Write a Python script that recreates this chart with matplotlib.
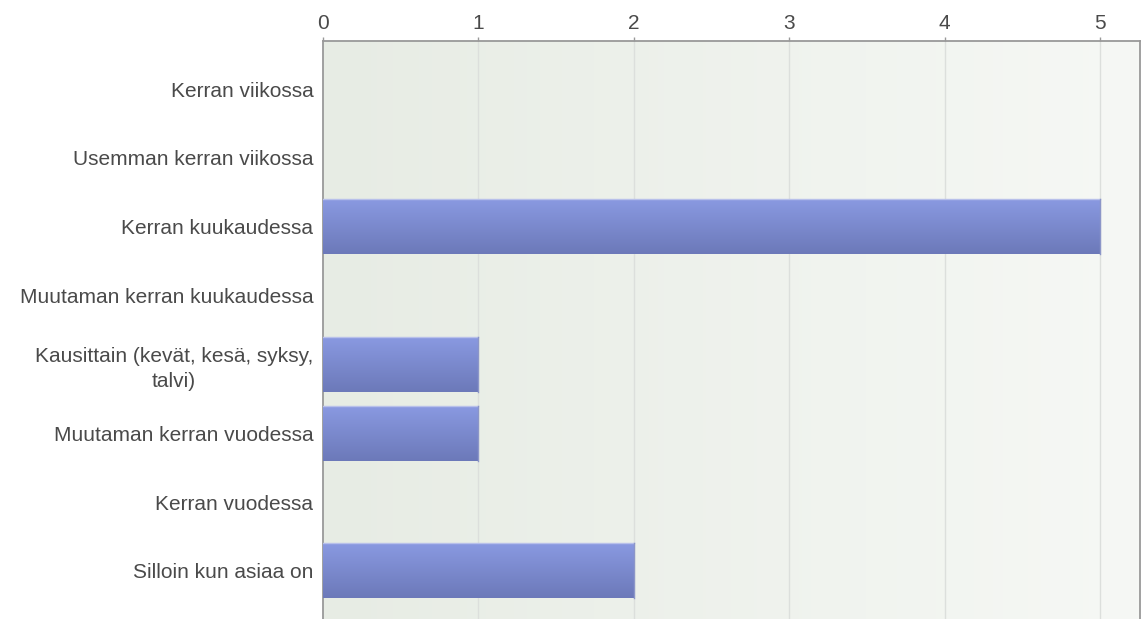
import matplotlib.pyplot as plt
import numpy as np
from matplotlib.colors import LinearSegmentedColormap

categories = [
    "Kerran viikossa",
    "Usemman kerran viikossa",
    "Kerran kuukaudessa",
    "Muutaman kerran kuukaudessa",
    "Kausittain (kevät, kesä, syksy,\ntalvi)",
    "Muutaman kerran vuodessa",
    "Kerran vuodessa",
    "Silloin kun asiaa on",
]
counts = [0, 0, 5, 0, 1, 1, 0, 2]
ticks = [0, 1, 2, 3, 4, 5]

plt.rcParams['font.family'] = ['Liberation Sans', 'DejaVu Sans']

fig = plt.figure(figsize=(11.43, 6.19), dpi=100)
ax = fig.add_axes([323 / 1143, 0, 817 / 1143, 578 / 619])

xmax = 5.257
ymin, ymax = 7.7, -0.7
ax.set_xlim(0, xmax)
ax.set_ylim(ymin, ymax)

# taustan vaakasuuntainen liukuväri
bg = LinearSegmentedColormap.from_list("bg", ["#e7ece4", "#f6f8f5"])
grad = np.linspace(0, 1, 256).reshape(1, -1)
ax.imshow(grad, cmap=bg, aspect="auto", extent=[0, xmax, ymin, ymax], zorder=0)

for t in ticks[1:]:
    ax.axvline(t, color="#dcdfdc", lw=1, zorder=1)

# palkit pystysuuntaisella liukuvärillä
barcm = LinearSegmentedColormap.from_list("bar", ["#8a9ae2", "#6c79b9"])
vgrad = np.linspace(0, 1, 256).reshape(-1, 1)
y = np.arange(len(categories))
bars = ax.barh(y, counts, height=0.8, color="none", edgecolor="none", zorder=2)
for b, c in zip(bars, counts):
    if c == 0:
        continue
    x0, y0 = b.get_x(), b.get_y()
    w, h = b.get_width(), b.get_height()
    im = ax.imshow(vgrad, cmap=barcm, aspect="auto",
                   extent=[x0, x0 + w, y0 + h, y0], zorder=3)
    im.set_clip_path(b)
    ax.plot([x0, x0 + w], [y0, y0], color="#b8c0ea", lw=1, zorder=4)
    ax.plot([x0 + w, x0 + w], [y0, y0 + h], color="#8c96c8", lw=1, zorder=4)

ax.set_xlim(0, xmax)
ax.set_ylim(ymin, ymax)

ax.set_yticks(y)
ax.set_yticklabels(categories, fontsize=15, color="#4a4a4a",
                   multialignment="center", linespacing=1.4)
ax.tick_params(axis="y", length=0, pad=7)

ax.xaxis.tick_top()
ax.set_xticks(ticks)
ax.set_xticklabels([str(t) for t in ticks], fontsize=15, color="#4a4a4a")
ax.tick_params(axis="x", length=3, width=1, color="#999999", pad=3)

for side in ["top", "left", "right"]:
    ax.spines[side].set_color("#999999")
    ax.spines[side].set_linewidth(1.3)
ax.spines["bottom"].set_visible(False)

fig.savefig("out.png", dpi=100)
